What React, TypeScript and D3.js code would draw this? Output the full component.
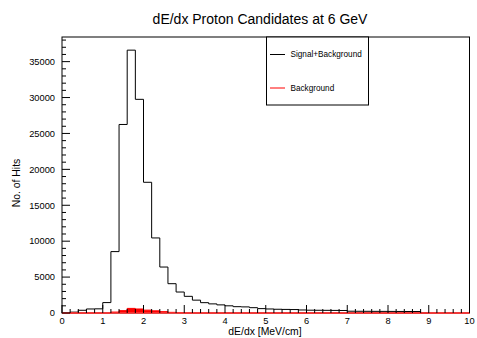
import React from "react";
import * as d3 from "d3";

const binWidth = 0.2;
const signalPlusBackground = [
  0, 120, 380, 560, 580, 1450, 8550, 26250, 36600, 29750,
  18200, 10450, 6400, 4080, 2920, 2320, 1790, 1440, 1270, 1130,
  1000, 880, 850, 740, 610, 560, 520, 500, 480, 420,
  390, 380, 370, 360, 350, 250, 240, 235, 230, 225,
  220, 215, 210, 205, 0, 0, 0, 0, 0, 0,
];
const background = [
  0, 0, 0, 0, 0, 0, 130, 330, 640, 560,
  400, 300, 190, 90, 30, 0, 0, 0, 0, 0,
  0, 0, 0, 0, 0, 0, 0, 0, 0, 0,
  0, 0, 0, 0, 0, 0, 0, 0, 0, 0,
  0, 0, 0, 0, 0, 0, 0, 0, 0, 0,
];
const xTicks = [0, 1, 2, 3, 4, 5, 6, 7, 8, 9, 10];
const yTicks = [0, 5000, 10000, 15000, 20000, 25000, 30000, 35000];
const legendLabels = ["Signal+Background", "Background"];
const title = "dE/dx Proton Candidates at 6 GeV";
const xTitle = "dE/dx [MeV/cm]";
const yTitle = "No. of Hits";

const W = 477;
const H = 338;
const L = 62;
const R = 469.5;
const T = 37;
const B = 313;
const FONT = "'Liberation Sans', Arial, Helvetica, sans-serif";

export default function App() {
  const yMax = 1.05 * (d3.max(signalPlusBackground) as number);
  const x = d3.scaleLinear().domain([0, 10]).range([L, R]);
  const y = d3.scaleLinear().domain([0, yMax]).range([B, T]);

  const stepPath = (vals: number[], closeToZero: boolean) => {
    let d = "M" + x(0) + "," + y(0);
    vals.forEach((v, i) => {
      d += "L" + x(i * binWidth) + "," + y(v) + "L" + x((i + 1) * binWidth) + "," + y(v);
    });
    d += "L" + x(vals.length * binWidth) + "," + y(0);
    if (closeToZero) d += "Z";
    return d;
  };

  const blackPath = (() => {
    const vals = signalPlusBackground;
    let d = "";
    let prev = 0;
    vals.forEach((v, i) => {
      const x0 = x(i * binWidth);
      const x1 = x((i + 1) * binWidth);
      if (v === 0 && prev === 0) {
        prev = v;
        return;
      }
      if (d === "") d = "M" + x0 + "," + y(prev);
      d += "L" + x0 + "," + y(v) + "L" + x1 + "," + y(v);
      prev = v;
    });
    return d;
  })();

  const xMinor = d3.range(0, 10.0001, 0.2);
  const yMinor = d3.range(0, yMax, 1000);

  return (
    <svg
      width={W}
      height={H}
      style={{ position: "absolute", left: 0, top: 0, background: "#fff" }}
      fontFamily={FONT}
    >
      <rect x={0} y={0} width={W} height={H} fill="#fff" />
      <text x={260} y={24} textAnchor="middle" fontSize={14} fill="#000">
        {title}
      </text>
      <rect x={L} y={T} width={R - L} height={B - T} fill="none" stroke="#000" strokeWidth={1} />
      <path d={blackPath} fill="none" stroke="#000" strokeWidth={1} />
      <path d={stepPath(background, true)} fill="#ff0000" stroke="#ff0000" strokeWidth={1} />
      <line x1={L} x2={R} y1={B} y2={B} stroke="#ff5555" strokeWidth={1.2} />
      {xMinor.map((t, i) => {
        const major = Math.abs(t - Math.round(t)) < 1e-6;
        return (
          <line key={"xm" + i} x1={x(t)} x2={x(t)} y1={B} y2={B - (major ? 8 : 4)} stroke="#000" strokeWidth={1} />
        );
      })}
      {xTicks.map((t) => (
        <text key={"xl" + t} x={x(t)} y={324} textAnchor="middle" fontSize={9.3} fill="#000">
          {t}
        </text>
      ))}
      {yMinor.map((t, i) => {
        const major = t % 5000 === 0;
        return (
          <line key={"ym" + i} x1={L} x2={L + (major ? 8 : 4)} y1={y(t)} y2={y(t)} stroke="#000" strokeWidth={1} />
        );
      })}
      {yTicks.map((t) => (
        <text key={"yl" + t} x={55} y={y(t) + 3.3} textAnchor="end" fontSize={9.3} fill="#000">
          {t}
        </text>
      ))}
      <text x={265} y={335} textAnchor="middle" fontSize={10.4} fill="#000">
        {xTitle}
      </text>
      <text
        x={0}
        y={0}
        transform={`translate(20,${183}) rotate(-90)`}
        textAnchor="middle"
        fontSize={10.4}
        fill="#000"
      >
        {yTitle}
      </text>
      <rect x={266.5} y={T} width={102} height={68} fill="#fff" stroke="#000" strokeWidth={1} />
      <line x1={270} x2={285} y1={54.5} y2={54.5} stroke="#000" strokeWidth={1} />
      <text x={290.5} y={57.3} fontSize={8.2} fill="#000">
        {legendLabels[0]}
      </text>
      <line x1={270} x2={285} y1={88} y2={88} stroke="#ff0000" strokeWidth={1} />
      <text x={290.5} y={90.8} fontSize={8.2} fill="#000">
        {legendLabels[1]}
      </text>
    </svg>
  );
}
